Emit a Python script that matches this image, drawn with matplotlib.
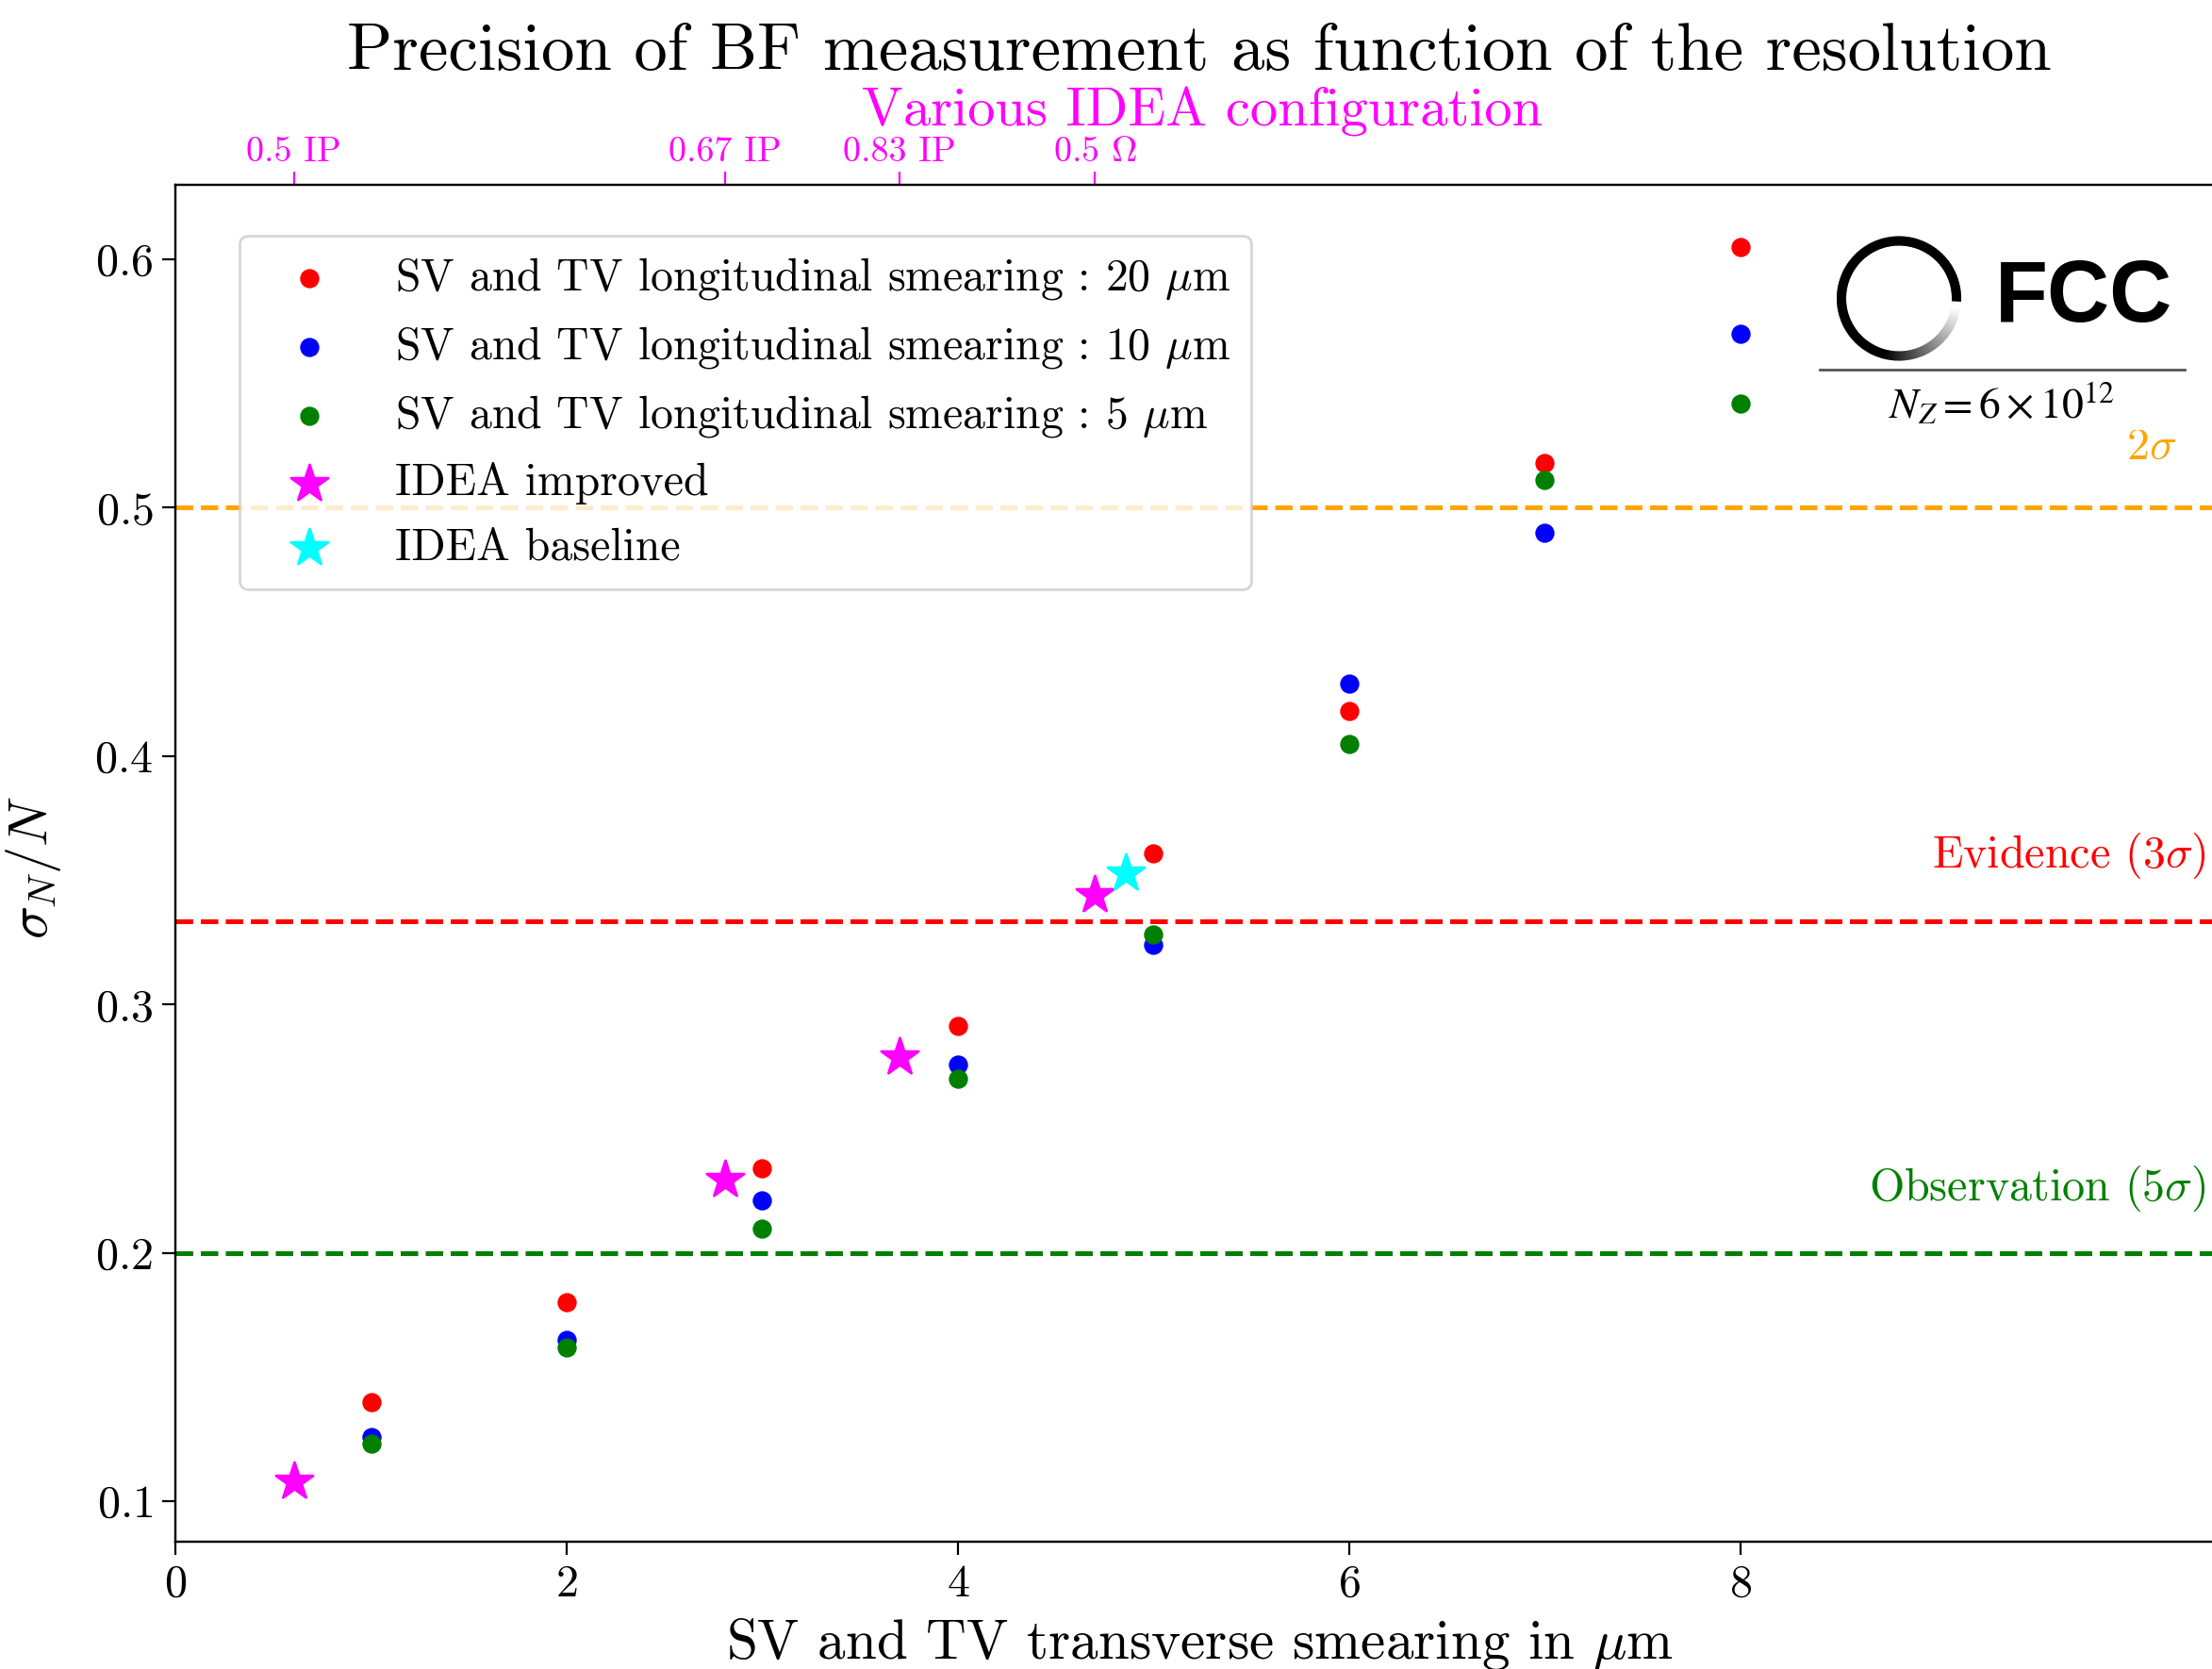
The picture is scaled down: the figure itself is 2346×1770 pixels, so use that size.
import numpy as np
import matplotlib
matplotlib.use("Agg")
import matplotlib.pyplot as plt
from matplotlib.patches import Wedge

plt.rcParams['font.family'] = 'serif'
plt.rcParams['font.serif'] = ['cmr10']
plt.rcParams['mathtext.fontset'] = 'cm'
plt.rcParams['axes.unicode_minus'] = False
plt.rcParams['axes.formatter.use_mathtext'] = True

# ---------------- data ----------------
smear_x = [1, 2, 3, 4, 5, 6, 7, 8]
sig_20um = [0.140, 0.180, 0.234, 0.2915, 0.361, 0.418, 0.518, 0.605]
sig_10um = [0.126, 0.165, 0.221, 0.2756, 0.324, 0.429, 0.490, 0.570]
sig_5um = [0.123, 0.162, 0.2097, 0.270, 0.328, 0.405, 0.511, 0.542]

idea_improved_x = [0.606, 2.81, 3.70, 4.70]
idea_improved_y = [0.108, 0.2295, 0.279, 0.344]
idea_baseline_x = [4.86]
idea_baseline_y = [0.353]

top_tick_labels = ['0.5 IP', '0.67 IP', '0.83 IP', r'0.5 $\Omega$']

thr_2sigma = 0.5
thr_3sigma = 1 / 3
thr_5sigma = 0.2

# ---------------- figure ----------------
fig = plt.figure(figsize=(11.73, 8.85), dpi=200)
ax = fig.add_axes([0.0793, 0.0763, 0.9259, 0.8130])

ax.scatter(smear_x, sig_20um, color='red', s=40, zorder=3,
           label=r'SV and TV longitudinal smearing : 20 $\mu$m')
ax.scatter(smear_x, sig_10um, color='blue', s=40, zorder=3,
           label=r'SV and TV longitudinal smearing : 10 $\mu$m')
ax.scatter(smear_x, sig_5um, color='green', s=40, zorder=3,
           label=r'SV and TV longitudinal smearing : 5 $\mu$m')
ax.scatter(idea_improved_x, idea_improved_y, color='magenta', marker='*', s=220,
           zorder=3, label='IDEA improved')
ax.scatter(idea_baseline_x, idea_baseline_y, color='cyan', marker='*', s=220,
           zorder=3, label='IDEA baseline')

ax.axhline(thr_2sigma, color='orange', ls='--', lw=1.8, zorder=1)
ax.axhline(thr_3sigma, color='red', ls='--', lw=1.8, zorder=1)
ax.axhline(thr_5sigma, color='green', ls='--', lw=1.8, zorder=1)

ax.text(10.23, 0.524, r'$2\sigma$', color='orange', ha='right', va='center', fontsize=17.3)
ax.text(10.38, 0.360, r'Evidence ($3\sigma$)', color='red', ha='right', va='center', fontsize=17.3)
ax.text(10.38, 0.226, r'Observation ($5\sigma$)', color='green', ha='right', va='center', fontsize=17.3)

ax.set_xlim(0, 10.47)
ax.set_ylim(0.0837, 0.630)
ax.set_xticks([0, 2, 4, 6, 8])
ax.set_yticks([0.1, 0.2, 0.3, 0.4, 0.5, 0.6])
ax.tick_params(labelsize=17.3, length=5)
ax.set_xlabel(r'SV and TV transverse smearing in $\mu$m', fontsize=21.3, labelpad=4)
ax.set_ylabel(r'$\sigma_N/N$', fontsize=21)
ax.yaxis.set_label_coords(-0.055, 0.497)

leg = ax.legend(loc='upper left', bbox_to_anchor=(0.0313, 0.9625), borderaxespad=0,
                fontsize=17.2, labelspacing=0.5, borderpad=0.45, handlelength=2.2)

ax2 = ax.twiny()
ax2.set_xlim(ax.get_xlim())
ax2.set_xticks(idea_improved_x)
ax2.set_xticklabels(top_tick_labels)
ax2.tick_params(axis='x', colors='magenta', labelsize=13.7, length=5, pad=1.5)
ax2.spines['top'].set_color('black')

fig.text(0.542, 0.9682, 'Precision of BF measurement as function of the resolution',
         ha='center', va='center', fontsize=25.5)
fig.text(0.5433, 0.9333, 'Various IDEA configuration', ha='center', va='center',
         fontsize=21.1, color='magenta')

# ---------------- FCC logo ----------------
W, H = 2346, 1770
lx0, ly0, lx1, ly1 = 1895, 1770 - 456, 2346, 1770 - 228
lax = fig.add_axes([lx0 / W, ly0 / H, (lx1 - lx0) / W, (ly1 - ly0) / H])
lax.set_xlim(lx0, lx1)
lax.set_ylim(ly0, ly1)
lax.axis('off')
lax.add_patch(plt.Rectangle((lx0, ly0), lx1 - lx0, ly1 - ly0, color='white', zorder=0))
lax.set_zorder(5)

cx, cy, r_out, ring_w = 2014, 1770 - 316.5, 66, 10
edges = np.linspace(-3, 352, 180)
for a0, a1 in zip(edges[:-1], edges[1:]):
    mid = 0.5 * (a0 + a1)
    g = float(np.clip((mid - 255) / (350 - 255), 0, 1))
    lax.add_patch(Wedge((cx, cy), r_out, a0, a1 + 0.8, width=ring_w,
                        facecolor=(g, g, g), edgecolor='none', zorder=2))
lax.text(2116, 1770 - 317, 'FCC', fontsize=33, fontweight='bold',
         family='Liberation Sans', ha='left', va='center')
lax.plot([1930, 2317], [1770 - 392, 1770 - 392], color='#555555', lw=1.0)
lax.text(2123, 1770 - 428, r'$N_Z = 6\times10^{12}$', fontsize=16.4,
         math_fontfamily='stix', ha='center', va='center')

fig.savefig('out.png', dpi=200)
